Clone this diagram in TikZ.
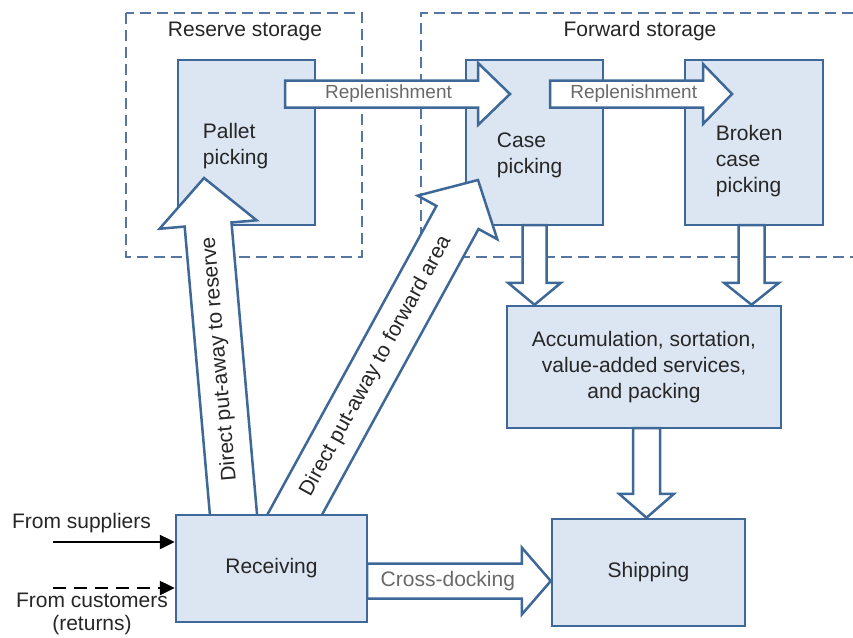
\documentclass[tikz,border=0pt]{standalone}
\usepackage{fontspec}
\setmainfont{Liberation Sans}
\usetikzlibrary{calc,arrows.meta}

\definecolor{boxfill}{RGB}{220,230,242}
\definecolor{boxline}{RGB}{62,104,152}
\definecolor{zoneline}{RGB}{84,118,160}
\definecolor{inktext}{RGB}{38,38,38}
\definecolor{flowtext}{RGB}{105,105,105}

\pgfdeclarelayer{zones}
\pgfdeclarelayer{boxes}
\pgfdeclarelayer{front}
\pgfsetlayers{zones,boxes,main,front}

% Hollow block arrow: start, tip, shaft half width, head half width, head length
\newcommand\blockarrow[5]{%
  \coordinate (ba-base) at ($(#2)!#5!(#1)$);
  \draw[flowarrow]
    ($(#1)!#3!90:(#2)$) -- ($(ba-base)!#3!90:(#2)$) -- ($(ba-base)!#4!90:(#2)$)
    -- (#2)
    -- ($(ba-base)!#4!-90:(#2)$) -- ($(ba-base)!#3!-90:(#2)$) -- ($(#1)!#3!-90:(#2)$)
    -- cycle;}

\begin{document}
\begin{tikzpicture}[x=1pt,y=-1pt,
  zone/.style={draw=zoneline, line width=2pt, dash pattern=on 11pt off 6pt},
  zonetitle/.style={text=inktext, font=\fontsize{21pt}{26pt}\selectfont, inner sep=0pt},
  stage/.style={draw=boxline, fill=boxfill, line width=2.5pt, inner sep=0pt},
  stagetext/.style={text=inktext, font=\fontsize{21pt}{26pt}\selectfont, inner sep=0pt},
  flowarrow/.style={draw=boxline, fill=white, line width=2.5pt, line join=miter},
  flowlabel/.style={text=flowtext, font=\fontsize{19pt}{24pt}\selectfont, inner sep=0pt},
  sidelabel/.style={text=inktext, font=\fontsize{21pt}{26pt}\selectfont, inner sep=0pt},
  feed/.style={black, line width=2.5pt, -{Triangle[length=15pt,width=14pt]}}]

\path[use as bounding box] (0,0) rectangle (853,637);

% storage zones
\begin{pgfonlayer}{zones}
  \draw[zone] (126,13) rectangle (362,257);
  \draw[zone] (870,13) -- (421,13) -- (421,257) -- (870,257);
  \node[zonetitle] (reserve-title) at (245,31) {Reserve storage};
  \node[zonetitle] (forward-title) at (640,31) {Forward storage};
\end{pgfonlayer}

% process stages
\begin{pgfonlayer}{boxes}
  \node[stage, minimum width=137pt, minimum height=165pt] (pallet) at (246.5,142.5) {};
  \node[stage, minimum width=137pt, minimum height=165pt] (case) at (534.5,142.5) {};
  \node[stage, minimum width=138pt, minimum height=165pt] (broken) at (754,142.5) {};
  \node[stage, minimum width=274pt, minimum height=122pt, align=center,
        font=\fontsize{21pt}{26pt}\selectfont, text=inktext] (accum) at (644,367)
        {Accumulation, sortation,\\value-added services,\\and packing};
  \node[stage, minimum width=193pt, minimum height=107pt,
        font=\fontsize{21pt}{26pt}\selectfont, text=inktext] (shipping) at (648.5,572.5) {Shipping};
  \node[stagetext, anchor=west, align=left] (pallet-text) at ($(pallet.west)+(26,3.5)$) {Pallet\\picking};
  \node[stagetext, anchor=west, align=left] (case-text) at ($(case.west)+(32,12.5)$) {Case\\picking};
  \node[stagetext, anchor=west, align=left] (broken-text) at ($(broken.west)+(32,18.5)$) {Broken\\case\\picking};
\end{pgfonlayer}

\begin{pgfonlayer}{front}
  \node[stage, minimum width=191pt, minimum height=107pt,
        font=\fontsize{21pt}{26pt}\selectfont, text=inktext] (receiving) at (271.5,568.5) {Receiving};
\end{pgfonlayer}

% replenishment flows
\coordinate (r1s) at ($(pallet.center)+(38.5,-48.5)$);
\coordinate (r1t) at ($(case.center)+(-24.5,-48.5)$);
\blockarrow{r1s}{r1t}{13.5pt}{31pt}{32pt}
\coordinate (r2s) at ($(case.center)+(15.5,-48.5)$);
\coordinate (r2t) at ($(broken.center)+(-22,-48.5)$);
\blockarrow{r2s}{r2t}{13.5pt}{30pt}{29pt}

% picking to accumulation, accumulation to shipping
\coordinate (cs) at ($(case.south)+(0,-1.25)$);
\blockarrow{cs}{cs |- accum.north}{12pt}{26.5pt}{22pt}
\coordinate (bs) at ($(broken.south)+(-2.5,-1.25)$);
\blockarrow{bs}{bs |- accum.north}{13pt}{27.5pt}{22pt}
\coordinate (as) at ($(accum.south)+(2.5,-1.25)$);
\blockarrow{as}{as |- shipping.north}{13.5pt}{27.5pt}{24pt}

% direct put-away flows (bases hidden under the receiving box)
\coordinate (drs) at ($(receiving.center)+(-35.8,-28.5)$);
\coordinate (drt) at ($(pallet.center)+(-42.5,35.5)$);
\blockarrow{drs}{drt}{23.5pt}{48.7pt}{46.7pt}
\coordinate (dfs) at ($(receiving.center)+(9.3,-28.5)$);
\coordinate (dft) at ($(case.center)+(-56.5,37.5)$);
\blockarrow{dfs}{dft}{24pt}{45.4pt}{42.7pt}

% cross-docking
\coordinate (xs) at ($(receiving.east)+(-1.25,12.5)$);
\blockarrow{xs}{xs -| shipping.west}{17.5pt}{33.5pt}{29pt}

% flow labels
\node[flowlabel] (r1-label) at ($(r1s)!0.46!(r1t)$) {Replenishment};
\node[flowlabel] (r2-label) at ($(r2s)!0.46!(r2t)$) {Replenishment};
\node[flowlabel, font=\fontsize{21pt}{26pt}\selectfont] (x-label) at ($(xs)!0.44!(xs -| shipping.west)$) {Cross-docking};
\path (drs) -- (drt) node[sidelabel, pos=0.5, sloped, allow upside down] (dr-label) {Direct put-away to reserve};
\path (dfs) -- (dft) node[sidelabel, pos=0.49, sloped, xshift=-3pt] (df-label) {Direct put-away to forward area};

% inbound flows
\coordinate (sup-start) at (53,542);
\coordinate (cust-start) at (53,588);
\draw[feed] (sup-start) -- (sup-start -| receiving.west);
\draw[feed, dash pattern=on 13pt off 8pt] (cust-start) -- (cust-start -| receiving.west);
\node[sidelabel] (sup-label) at (81.5,523) {From suppliers};
\node[sidelabel, align=center, font=\fontsize{21pt}{23pt}\selectfont] (cust-label) at (92,613.5) {From customers\\(returns)};

\end{tikzpicture}
\end{document}
